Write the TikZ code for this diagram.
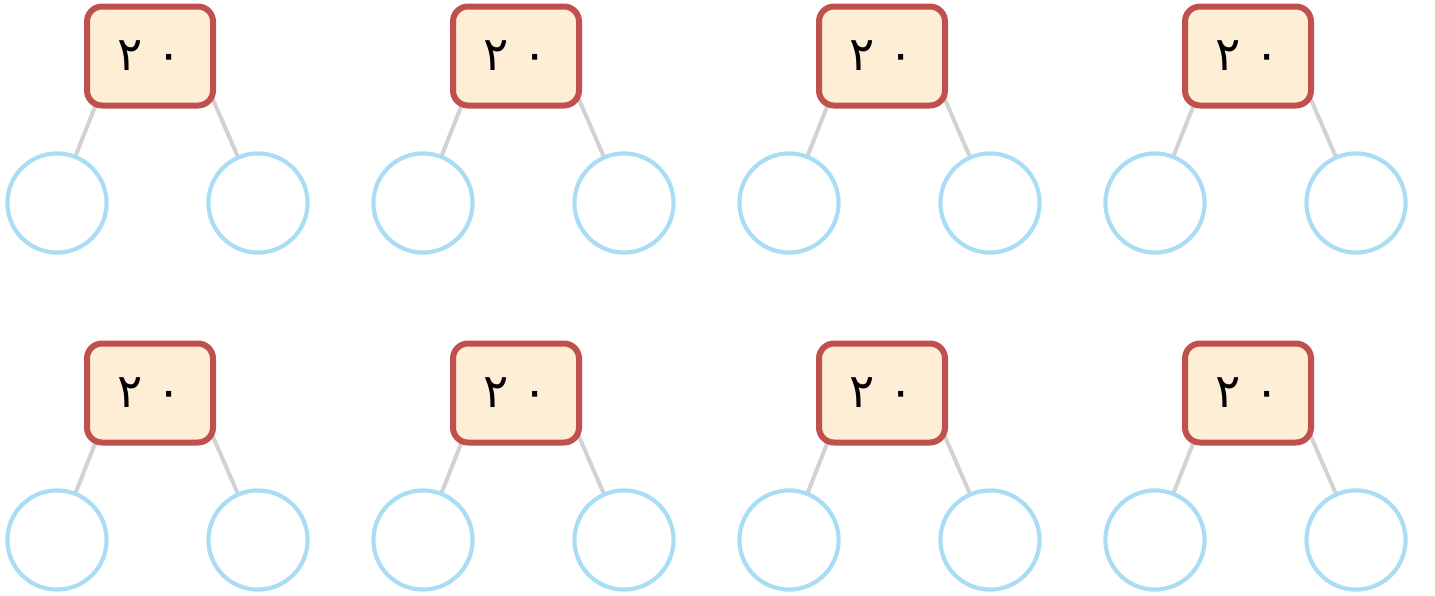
\documentclass[tikz,border=0pt]{standalone}
\usepackage{fontspec}
\newfontfamily\arabicfont[Script=Arabic]{DejaVu Sans}
\definecolor{boxred}{HTML}{C0504D}
\definecolor{boxfill}{HTML}{FDEED5}
\definecolor{circblue}{HTML}{A9DDF6}
\definecolor{linkgray}{HTML}{D2D2D2}
\begin{document}
\begin{tikzpicture}[x=1pt,y=-1pt,
  numbox/.style={draw=boxred,fill=boxfill,line width=6pt,rounded corners=15pt,
    minimum width=126pt,minimum height=99pt,inner sep=0pt,
    font=\arabicfont\fontsize{47}{50}\selectfont},
  part/.style={draw=circblue,fill=white,line width=4pt,circle,minimum size=99pt,inner sep=0pt},
  link/.style={draw=linkgray,line width=4pt}]
\useasboundingbox (0,0) rectangle (1435,595);
\foreach \c [count=\i] in {150,516,882,1248}{
  \foreach \r/\y in {1/56,2/393}{
    \coordinate (al\i\r) at (\c-35,\y);
    \coordinate (ar\i\r) at (\c+44,\y);
    \node[part] (l\i\r) at (\c-93,\y+147) {};
    \node[part] (r\i\r) at (\c+108,\y+147) {};
    \draw[link] (l\i\r.center) -- (al\i\r);
    \draw[link] (r\i\r.center) -- (ar\i\r);
    \node[part] at (l\i\r) {};
    \node[part] at (r\i\r) {};
    \node[numbox] (b\i\r) at (\c,\y) {٢\kern14pt٠};
  }
}
\end{tikzpicture}
\end{document}
